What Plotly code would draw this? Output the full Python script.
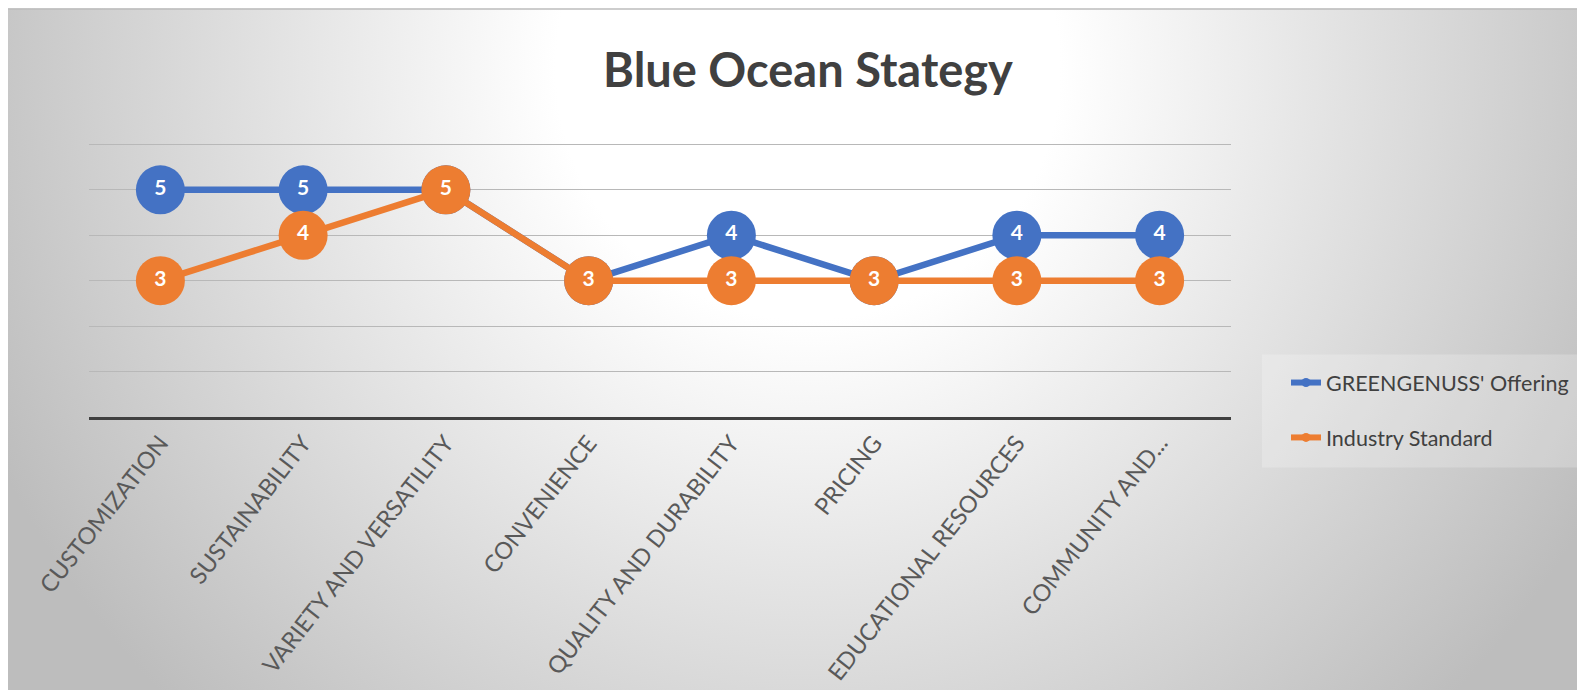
import base64
import plotly.graph_objects as go

categories = ["CUSTOMIZATION", "SUSTAINABILITY", "VARIETY AND VERSATILITY", "CONVENIENCE",
              "QUALITY AND DURABILITY", "PRICING", "EDUCATIONAL RESOURCES", "COMMUNITY AND..."]
greengenuss = [5, 5, 5, 3, 4, 3, 4, 4]
industry = [3, 4, 5, 3, 3, 3, 3, 3]
series_names = ["GREENGENUSS' Offering", "Industry Standard"]
colors = ["#4472C4", "#ED7D31"]

W, H = 1585, 690
L, R, T, B = 81, 1223, 135, 409.5
pw, ph = R - L, B - T

svg = ('<svg xmlns="http://www.w3.org/2000/svg" width="1585" height="690" viewBox="0 0 1585 690" '
       'preserveAspectRatio="none"><defs><radialGradient id="g" gradientUnits="userSpaceOnUse" '
       'cx="800" cy="60" r="900"><stop offset="0" stop-color="#ffffff"/>'
       '<stop offset="0.28" stop-color="#ffffff"/><stop offset="1" stop-color="#bdbdbd"/>'
       '</radialGradient></defs><rect width="1585" height="690" fill="url(#g)"/>'
       '<line x1="0" y1="0.5" x2="1585" y2="0.5" stroke="#bdbdbd" stroke-width="2"/></svg>')
src = "data:image/svg+xml;base64," + base64.b64encode(svg.encode()).decode()

fig = go.Figure()
for name, vals, c in zip(series_names, [greengenuss, industry], colors):
    fig.add_trace(go.Scatter(
        x=categories, y=vals, mode="lines+markers+text", name=name, showlegend=False,
        line=dict(color=c, width=6.5),
        marker=dict(size=49, color=c, line=dict(width=0)),
        text=[str(v) for v in vals], textposition="middle center",
        textfont=dict(family="Lato", size=21, color="white", weight="bold"),
        hoverinfo="skip",
    ))
legend_ids = ["legend", "legend2"]
for name, c, lg in zip(series_names, colors, legend_ids):
    fig.add_trace(go.Scatter(
        x=[None], y=[None], mode="lines+markers", name=name, legend=lg,
        line=dict(color=c, width=6), marker=dict(size=9, color=c),
    ))

def px(xf):
    return (xf - L) / pw

def py(yf):
    return (B - yf) / ph

legend_common = dict(xanchor="left", yanchor="middle", bgcolor="rgba(0,0,0,0)",
                     font=dict(family="Lato", size=21.5, color="#404040"))

fig.update_layout(
    width=W, height=H,
    margin=dict(l=L, r=W - R, t=T, b=H - B, autoexpand=False),
    paper_bgcolor="white", plot_bgcolor="rgba(0,0,0,0)",
    title=dict(text="<b>Blue Ocean Stategy</b>", x=800 / W, y=1 - 63 / H,
               xanchor="center", yanchor="middle",
               font=dict(family="Lato", size=47, color="#404040")),
    images=[dict(source=src, xref="paper", yref="paper",
                 x=px(0), y=py(0), sizex=W / pw, sizey=H / ph,
                 xanchor="left", yanchor="top", sizing="stretch", layer="below")],
    shapes=[dict(type="rect", xref="paper", yref="paper", x0=px(1254), x1=px(1600),
                 y0=py(460), y1=py(347), fillcolor="rgba(255,255,255,0.22)",
                 line=dict(width=0), layer="below")],
    xaxis=dict(type="category", range=[-0.5, 7.5], showgrid=False, showline=True,
               linecolor="#404040", linewidth=3, ticks="", tickangle=-52,
               tickfont=dict(family="Lato", size=23.5, color="#595959")),
    yaxis=dict(range=[0, 6.03], dtick=1, showticklabels=False, showgrid=True,
               gridcolor="#b8b8b8", gridwidth=1, zeroline=False, fixedrange=True),
    legend=dict(x=px(1278), y=py(375), **legend_common),
    legend2=dict(x=px(1278), y=py(430), **legend_common),
    showlegend=True,
)

fig.write_html("out.html")
